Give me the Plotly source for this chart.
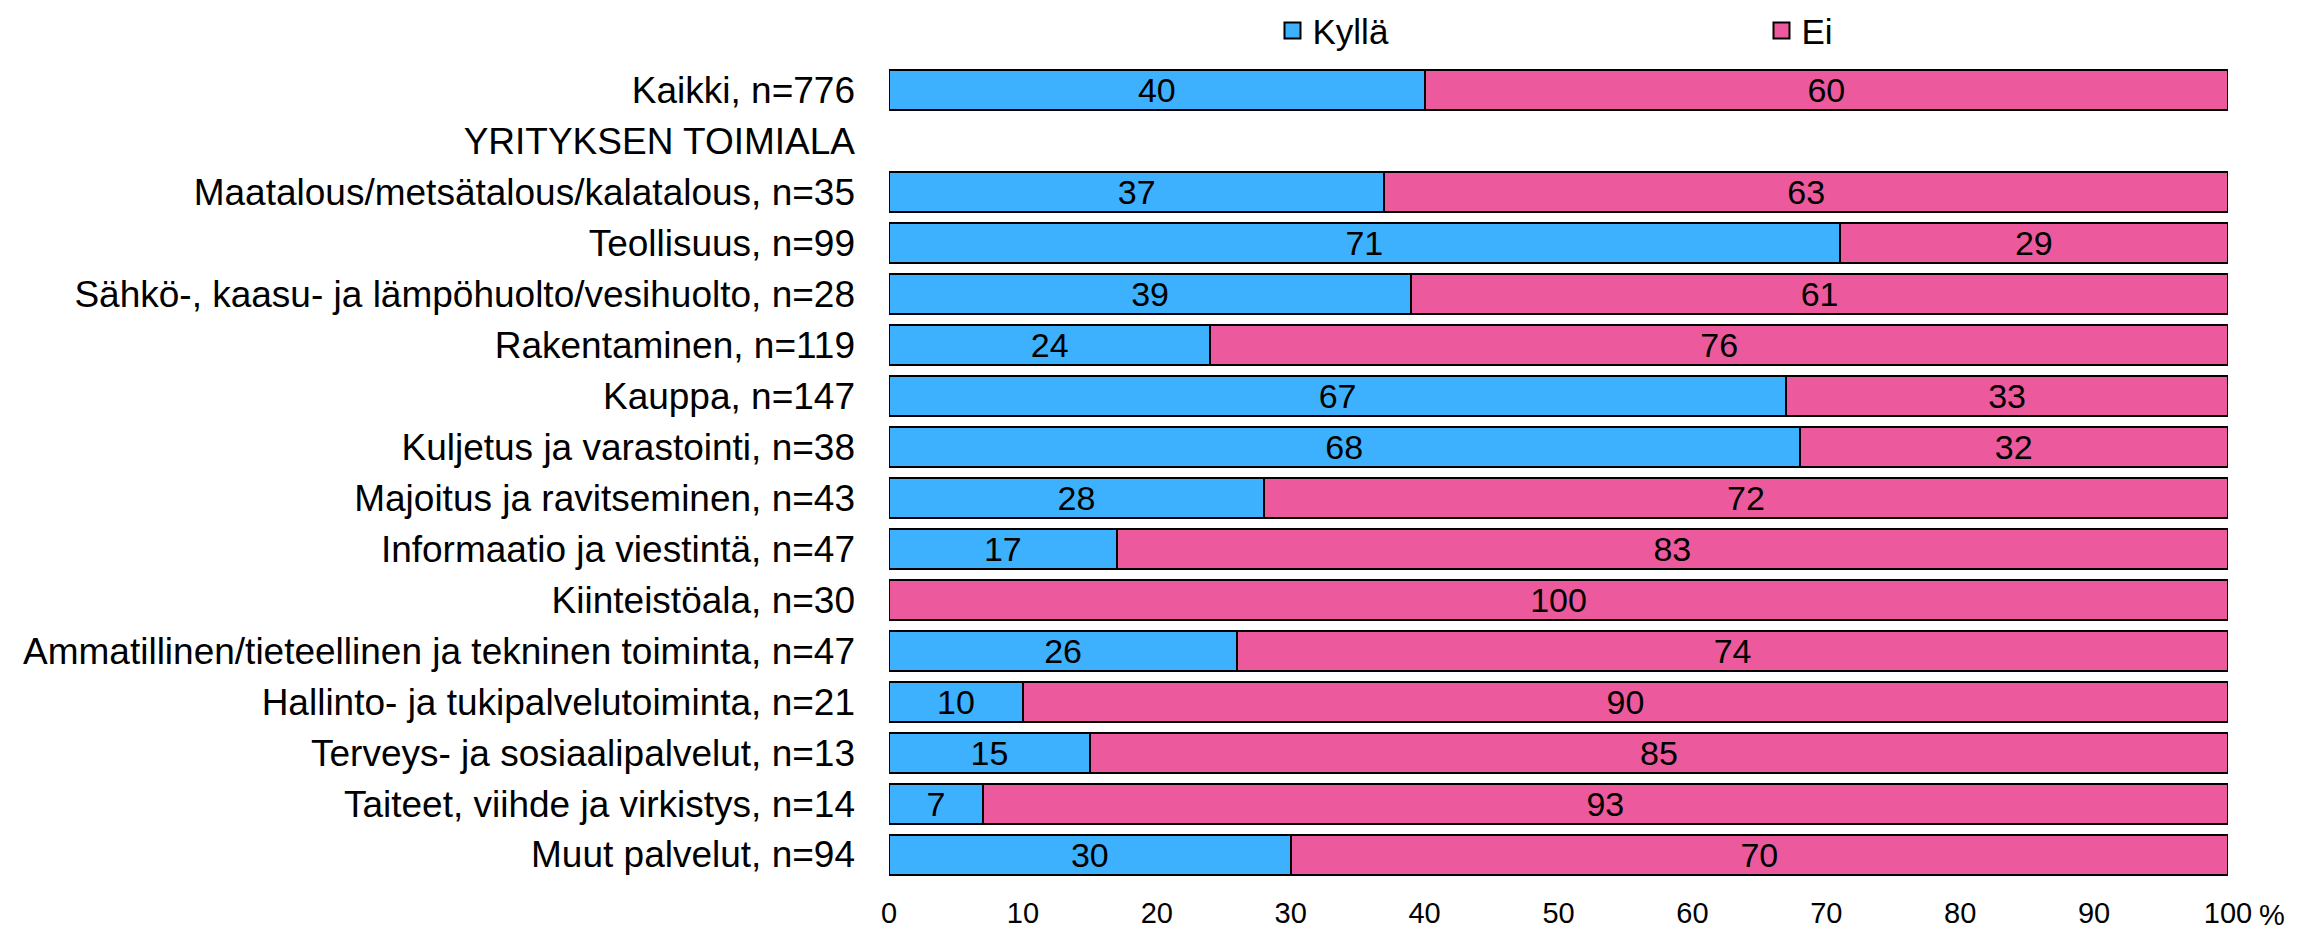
"""Stacked 100 % bar chart: Kyllä / Ei by industry (yrityksen toimiala)."""

import plotly.graph_objects as go

CATEGORIES = [
    "Kaikki, n=776",
    "YRITYKSEN TOIMIALA",
    "Maatalous/metsätalous/kalatalous, n=35",
    "Teollisuus, n=99",
    "Sähkö-, kaasu- ja lämpöhuolto/vesihuolto, n=28",
    "Rakentaminen, n=119",
    "Kauppa, n=147",
    "Kuljetus ja varastointi, n=38",
    "Majoitus ja ravitseminen, n=43",
    "Informaatio ja viestintä, n=47",
    "Kiinteistöala, n=30",
    "Ammatillinen/tieteellinen ja tekninen toiminta, n=47",
    "Hallinto- ja tukipalvelutoiminta, n=21",
    "Terveys- ja sosiaalipalvelut, n=13",
    "Taiteet, viihde ja virkistys, n=14",
    "Muut palvelut, n=94",
]
KYLLA = [40, None, 37, 71, 39, 24, 67, 68, 28, 17, 0, 26, 10, 15, 7, 30]
EI = [60, None, 63, 29, 61, 76, 33, 32, 72, 83, 100, 74, 90, 85, 93, 70]
X_TICKS = [0, 10, 20, 30, 40, 50, 60, 70, 80, 90, 100]

BLUE = "#3DB1FD"
PINK = "#EC5A9D"
FONT = "Liberation Sans, Arial, sans-serif"


def _labels(values):
    return [str(v) if v else "" for v in values]


fig = go.Figure()
for name, values, color in (("Kyllä", KYLLA, BLUE), ("Ei", EI, PINK)):
    fig.add_bar(
        name=name,
        y=CATEGORIES,
        x=values,
        orientation="h",
        marker=dict(color=color, line=dict(color="#000000", width=2)),
        text=_labels(values),
        textposition="inside",
        insidetextanchor="middle",
        textangle=0,
        textfont=dict(size=34, color="#000000"),
        hoverinfo="skip",
        showlegend=False,
    )
    # legend-only entry, so the key square can be drawn larger than a bar's
    fig.add_scatter(
        name=name,
        x=[None],
        y=[None],
        mode="markers",
        marker=dict(symbol="square", size=16, color=color,
                    line=dict(color="#000000", width=2)),
        hoverinfo="skip",
    )

fig.update_layout(
    width=2290,
    height=922,
    barmode="stack",
    bargap=0.214,
    plot_bgcolor="white",
    paper_bgcolor="white",
    font=dict(family=FONT, size=37, color="#000000"),
    margin=dict(l=881, r=70, t=57, b=50, autoexpand=False),
    uniformtext=dict(minsize=34, mode="show"),
    showlegend=True,
    legend=dict(
        orientation="h",
        x=0.2864,
        xanchor="left",
        y=1.042,
        yanchor="middle",
        entrywidth=444,
        entrywidthmode="pixels",
        traceorder="normal",
        itemsizing="trace",
        font=dict(size=35),
        itemclick=False,
    ),
)
fig.update_xaxes(
    range=[0, 100],
    tickvals=X_TICKS,
    showgrid=False,
    zeroline=False,
    showline=False,
    ticks="",
    ticklabelstandoff=13,
    tickfont=dict(size=29),
    fixedrange=True,
)
fig.update_yaxes(
    categoryorder="array",
    categoryarray=CATEGORIES,
    autorange="reversed",
    showgrid=False,
    zeroline=False,
    showline=False,
    ticks="",
    ticklabelstandoff=33,
    tickfont=dict(size=37),
    fixedrange=True,
)
fig.add_annotation(
    text="%",
    x=1.0,
    xref="paper",
    xanchor="left",
    xshift=29,
    y=-0.043,
    yref="paper",
    yanchor="middle",
    showarrow=False,
    font=dict(size=29),
)

fig.write_html("out.html", config={"displayModeBar": False})
